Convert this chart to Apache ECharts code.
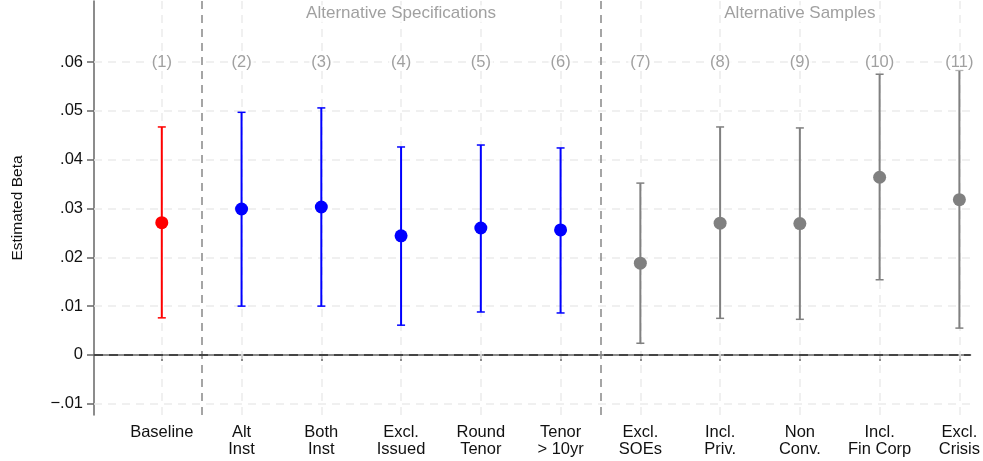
<!DOCTYPE html>
<html>
<head>
<meta charset="utf-8">
<script src="https://cdn.jsdelivr.net/npm/echarts@6/dist/echarts.min.js"></script>
<style>
  html, body { margin: 0; padding: 0; background: #fff; }
  #chart { width: 983px; height: 461px; }
</style>
</head>
<body>
<div id="chart"></div>
<script>
// Coefficient estimates with 95% confidence intervals, one per specification
const categories = ['Baseline', 'Alt\nInst', 'Both\nInst', 'Excl.\nIssued', 'Round\nTenor', 'Tenor\n> 10yr',
                    'Excl.\nSOEs', 'Incl.\nPriv.', 'Non\nConv.', 'Incl.\nFin Corp', 'Excl.\nCrisis'];
const columnTags = ['(1)', '(2)', '(3)', '(4)', '(5)', '(6)', '(7)', '(8)', '(9)', '(10)', '(11)'];
const estimates = [0.0271, 0.0299, 0.0303, 0.0244, 0.0260, 0.0256, 0.0188, 0.0270, 0.0269, 0.0364, 0.0318];
const lowerCI   = [0.0076, 0.0100, 0.0100, 0.0061, 0.0088, 0.0086, 0.0024, 0.0075, 0.0073, 0.0154, 0.0055];
const upperCI   = [0.0467, 0.0497, 0.0506, 0.0426, 0.0430, 0.0424, 0.0352, 0.0467, 0.0465, 0.0575, 0.0583];
const groups    = ['base', 'spec', 'spec', 'spec', 'spec', 'spec', 'samp', 'samp', 'samp', 'samp', 'samp'];
const groupTitles = [
  { text: 'Alternative Specifications', at: 4 },
  { text: 'Alternative Samples', at: 9 }
];
const dividers = [1.5, 6.5];
const yTicks = [-0.01, 0, 0.01, 0.02, 0.03, 0.04, 0.05, 0.06];

const groupColor = { base: '#ff0000', spec: '#0000ff', samp: '#808080' };
const FONT = '"Liberation Sans", Arial, Helvetica, sans-serif';
const positions = categories.map((_, i) => i + 1);

function fmtY(v) {
  if (Math.abs(v) < 1e-9) return '0';
  const s = Math.abs(v).toFixed(2).replace(/^0/, '');
  return (v < 0 ? '\u2212' : '') + s;
}

const gridDash = { color: '#ebebeb', width: 1.5, type: [8, 6] };

const chart = echarts.init(document.getElementById('chart'), null, { renderer: 'canvas' });
chart.setOption({
  animation: false,
  backgroundColor: '#ffffff',
  grid: { left: 94, right: 10, top: 1, bottom: 46 },
  xAxis: {
    type: 'value',
    min: 0.15,
    max: 11.14,
    splitLine: { show: false },
    axisLine: { lineStyle: { color: '#666', width: 1.5 } },
    axisTick: { show: true, length: 6, customValues: positions, lineStyle: { color: '#666', width: 1.5 } },
    axisLabel: {
      customValues: positions,
      formatter: v => categories[Math.round(v) - 1] || '',
      color: '#111', fontFamily: FONT, fontSize: 16.5, lineHeight: 17, margin: 9
    }
  },
  yAxis: {
    type: 'value',
    min: -0.0123,
    max: 0.0725,
    name: 'Estimated Beta',
    nameLocation: 'middle',
    nameRotate: 90,
    nameGap: 68,
    nameTextStyle: { color: '#111', fontFamily: FONT, fontSize: 15.5 },
    splitLine: { show: false },
    axisLine: { show: true, lineStyle: { color: '#666', width: 1.5 } },
    axisTick: { show: true, length: 7, customValues: yTicks, lineStyle: { color: '#666', width: 1.5 } },
    axisLabel: {
      customValues: yTicks,
      formatter: fmtY,
      color: '#111', fontFamily: FONT, fontSize: 16.5, margin: 11
    }
  },
  series: [
    {
      // background grid, group dividers and the zero reference line
      type: 'line',
      data: [],
      silent: true,
      z: 1,
      markLine: {
        silent: true,
        z: 1,
        symbol: 'none',
        label: { show: false },
        animation: false,
        data: [
          ...yTicks.filter(v => v !== 0).map(v => ({ yAxis: v, lineStyle: gridDash })),
          ...positions.map(v => ({ xAxis: v, lineStyle: gridDash })),
          ...dividers.map(v => ({ xAxis: v, lineStyle: { color: '#888', width: 1.5, type: [8, 6] } })),
          { yAxis: 0, lineStyle: { color: '#444', width: 2, type: [9, 6] } }
        ]
      }
    },
    {
      // confidence intervals with end caps
      type: 'custom',
      data: positions.map((p, i) => [p, lowerCI[i], upperCI[i]]),
      renderItem(params, api) {
        const x = api.value(0);
        const lo = api.coord([x, api.value(1)]);
        const hi = api.coord([x, api.value(2)]);
        const color = groupColor[groups[params.dataIndex]];
        const cap = 4;
        const st = { stroke: color, lineWidth: 2 };
        const stc = { stroke: color, lineWidth: 1.5 };
        return {
          type: 'group',
          children: [
            { type: 'line', shape: { x1: lo[0], y1: lo[1], x2: hi[0], y2: hi[1] }, style: st },
            { type: 'line', shape: { x1: lo[0] - cap, y1: lo[1], x2: lo[0] + cap, y2: lo[1] }, style: stc },
            { type: 'line', shape: { x1: hi[0] - cap, y1: hi[1], x2: hi[0] + cap, y2: hi[1] }, style: stc }
          ]
        };
      },
      z: 6
    },
    {
      // point estimates
      type: 'scatter',
      data: positions.map((p, i) => ({
        value: [p, estimates[i]],
        itemStyle: { color: groupColor[groups[i]], opacity: 1 }
      })),
      symbol: 'circle',
      symbolSize: 13,
      z: 7
    },
    {
      // column numbers
      type: 'scatter',
      silent: true,
      symbolSize: 0,
      data: positions.map(p => [p, 0.06]),
      label: {
        show: true,
        position: 'inside',
        formatter: p => columnTags[p.dataIndex],
        color: '#888', fontFamily: FONT, fontSize: 16.5,
        backgroundColor: '#fff', padding: [0, 2]
      },
      z: 8
    },
    {
      // panel headings
      type: 'scatter',
      silent: true,
      symbolSize: 0,
      data: groupTitles.map(g => [g.at, 0.0699]),
      label: {
        show: true,
        position: 'inside',
        formatter: p => groupTitles[p.dataIndex].text,
        color: '#888', fontFamily: FONT, fontSize: 17,
        backgroundColor: '#fff', padding: [0, 1]
      },
      z: 8
    }
  ]
});
</script>
</body>
</html>
